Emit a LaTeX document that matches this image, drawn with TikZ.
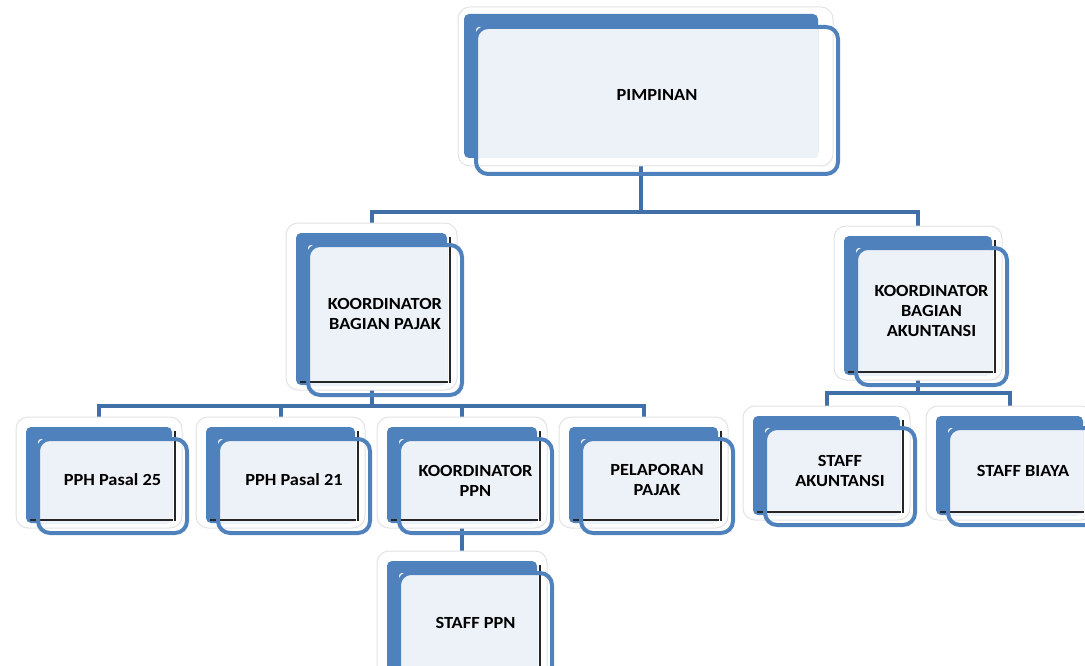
\documentclass[tikz,border=0pt]{standalone}
\usepackage{fontspec}
\setmainfont{Carlito}[FakeStretch=1.08]
\usetikzlibrary{fit}
\definecolor{boxblue}{RGB}{79,129,189}
\definecolor{lineblue}{RGB}{65,111,167}
\definecolor{lightfill}{RGB}{237,242,249}
\pgfdeclarelayer{bg}
\pgfsetlayers{bg,main}
\tikzset{
  halo/.style={draw=black!11, line width=1pt, fill=white, rounded corners=12pt, inner sep=0pt},
  backbox/.style={fill=boxblue, rounded corners=5pt, inner sep=0pt},
  frontbox/.style={draw=boxblue, line width=4pt, rounded corners=12pt, inner sep=0pt,
     align=center, font=\fontsize{17}{20}\selectfont\bfseries},
  art/.style={draw=black!85, line width=1.3pt},
  conn/.style={draw=lineblue, line width=4pt}
}
% #1 name, #2 x1, #3 y1, #4 x2, #5 y2, #6 text
\newcommand\orgbox[6]{%
  \node[halo, fit={(#2-22,#3-22) (#4-5,#5-5)}] (#1-h) {};
  \node[backbox, fit={(#2-12,#3-12) (#4-15,#5-10)}] (#1-b) {};
  \fill[lightfill, rounded corners=3pt] (#2,#3) rectangle (#4-15,#5-10);
  \draw[art] (#4-12,#3-8) -- (#4-12,#5-12);
  \draw[art] (#2-8,#5-13) -- (#4-14,#5-13);
  \node[frontbox, fit={(#2,#3) (#4,#5)}] (#1) {#6};
}
\begin{document}
\begin{tikzpicture}[x=1pt,y=-1pt]
\useasboundingbox (0,0) rectangle (1085,666);
\clip (0,0) rectangle (1085,666);
% top box (no artefact lines)
\node[halo, fit={(476-18,27-20) (838-5,174-8)}] (pim-h) {};
\node[backbox, fit={(476-12,27-13) (838-20,174-16)}] (pim-b) {};
\fill[lightfill, rounded corners=3pt] (476,27) rectangle (838-20,174-16);
\node[frontbox, fit={(476,27) (838,174)}] (pim) {PIMPINAN};

\orgbox{kbp}{308}{245}{462}{395}{KOORDINATOR\\BAGIAN PAJAK}
\orgbox{kba}{856}{248}{1007}{385}{KOORDINATOR\\BAGIAN\\AKUNTANSI}
\orgbox{p25}{38}{439}{187}{533}{PPH Pasal 25}
\orgbox{p21}{218}{439}{370}{533}{PPH Pasal 21}
\orgbox{kppn}{399}{439}{552}{533}{KOORDINATOR\\PPN}
\orgbox{pel}{581}{439}{733}{533}{PELAPORAN\\PAJAK}
\orgbox{sppn}{399}{573}{552}{685}{STAFF PPN}
\orgbox{sak}{765}{428}{915}{525}{STAFF\\AKUNTANSI}
\orgbox{sbi}{948}{428}{1098}{525}{STAFF BIAYA}

\begin{pgfonlayer}{bg}
  \draw[conn] (pim-b.center) -- ++(0,215-89) -| (kbp-h.north);
  \draw[conn] (pim-b.center) ++(0,215-89) -| (kba-h.north);
  \draw[conn] (kbp-b.center) -- ++(0,407-310) -| (p25-h.north);
  \draw[conn] (kbp-b.center) ++(0,407-310) -| (p21-h.north);
  \draw[conn] (kbp-b.center) ++(0,407-310) -| (kppn-h.north);
  \draw[conn] (kbp-b.center) ++(0,407-310) -| (pel-h.north);
  \draw[conn] (kba-b.center) -- ++(0,398-311) -| (sak-h.north);
  \draw[conn] (kba-b.center) ++(0,398-311) -| (sbi-h.north);
  \draw[conn] (kppn-b.center) -- (sppn-h.north);
\end{pgfonlayer}
\end{tikzpicture}
\end{document}
